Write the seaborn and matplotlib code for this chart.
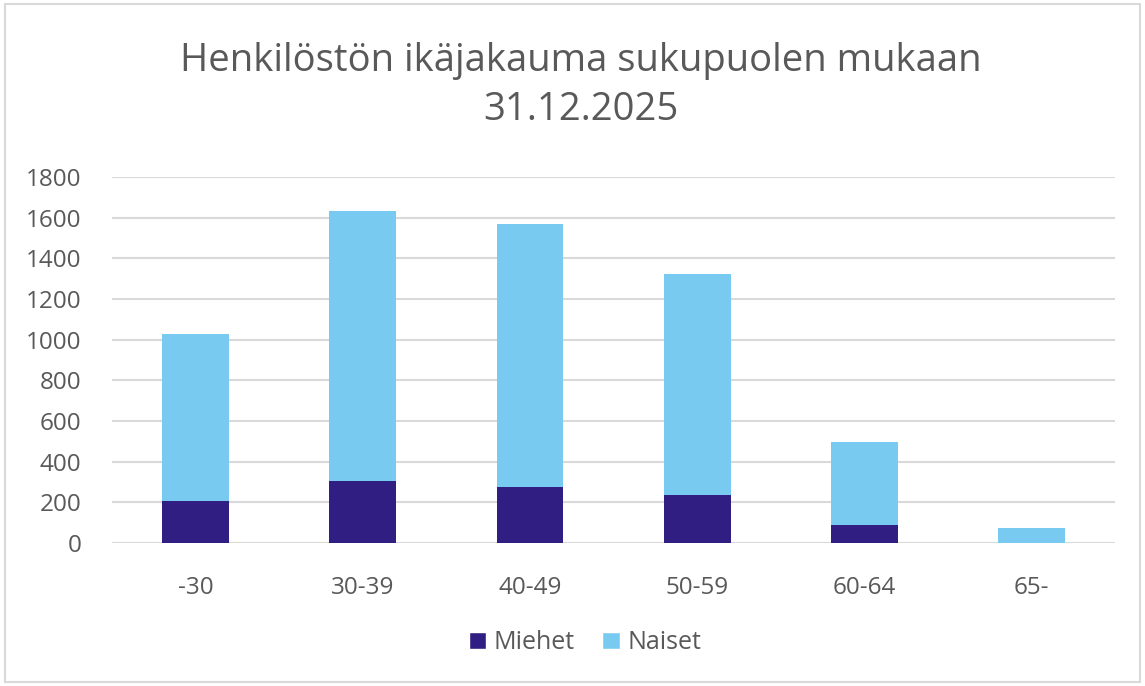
import numpy as np
import pandas as pd
import matplotlib
matplotlib.use("Agg")
import matplotlib.pyplot as plt
import seaborn as sns
from matplotlib.patches import Rectangle, Patch

# Age groups and head counts
age_groups = ["-30", "30-39", "40-49", "50-59", "60-64", "65-"]
miehet = [206, 304, 275, 237, 88, 0]
naiset = [823, 1331, 1293, 1085, 411, 72]

title = "Henkilöstön ikäjakauma sukupuolen mukaan\n31.12.2025"
y_ticks = [0, 200, 400, 600, 800, 1000, 1200, 1400, 1600, 1800]

col_miehet = "#311E82"
col_naiset = "#78CAF0"
text_col = "#595959"
grid_col = "#D9D9D9"

sns.set_theme(style="white")
plt.rcParams["font.family"] = ["Open Sans", "DejaVu Sans"]

df = pd.DataFrame({"ika": age_groups, "Miehet": miehet, "Naiset": naiset})
df["yht"] = df["Miehet"] + df["Naiset"]

fig = plt.figure(figsize=(11.45, 6.86), dpi=100)
ax = fig.add_axes([0.0978, 0.2085, 0.8762, 0.5335])

# stacked bars: total in light blue, men drawn over it
sns.barplot(data=df, x="ika", y="yht", color=col_naiset, width=0.40,
            saturation=1, linewidth=0, ax=ax, zorder=3)
sns.barplot(data=df, x="ika", y="Miehet", color=col_miehet, width=0.40,
            saturation=1, linewidth=0, ax=ax, zorder=4)

ax.set_ylim(0, 1800)
ax.set_xlim(-0.5, len(age_groups) - 0.5)
ax.set_yticks(y_ticks)
ax.set_yticklabels([str(v) for v in y_ticks])
ax.yaxis.grid(True, color=grid_col, linewidth=1.5, zorder=0)
ax.set_axisbelow(True)
for s in ax.spines.values():
    s.set_visible(False)
ax.set_xlabel("")
ax.set_ylabel("")
ax.tick_params(axis="y", labelsize=17.5, colors=text_col, length=0, pad=22)
ax.tick_params(axis="x", labelsize=17.5, colors=text_col, length=0, pad=24)

fig.text(0.507, 0.875, title, ha="center", va="center", fontsize=27.5,
         color=text_col, linespacing=1.38)

handles = [Patch(facecolor=col_miehet, label="Miehet"),
           Patch(facecolor=col_naiset, label="Naiset")]
fig.legend(handles=handles, loc="center", bbox_to_anchor=(0.511, 0.063),
           ncol=2, frameon=False, fontsize=18, labelcolor=text_col,
           handlelength=0.7, handleheight=0.7, handletextpad=0.3,
           columnspacing=1.1)

# light frame around the chart area
fig.patches.append(Rectangle((0.004, 0.006), 0.992, 0.988, transform=fig.transFigure,
                             fill=False, edgecolor="#D9D9D9", linewidth=1.5))

fig.savefig("out.png", dpi=100)
